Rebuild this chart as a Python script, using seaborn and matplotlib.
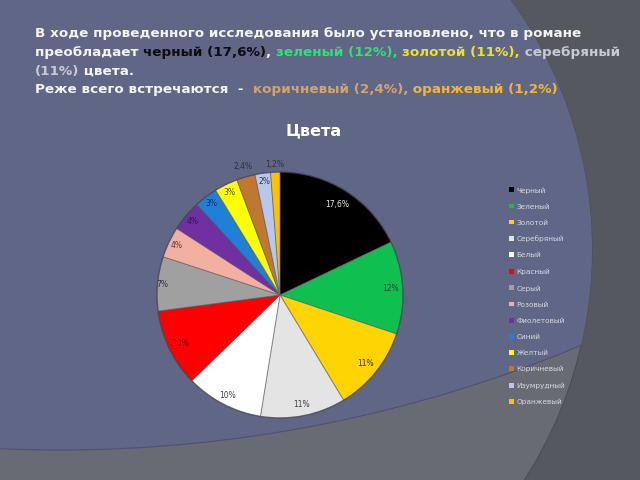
import numpy as np
import pandas as pd
import seaborn as sns
import matplotlib
matplotlib.use("Agg")
import matplotlib.pyplot as plt
from matplotlib.patches import Circle, Rectangle, Patch

# ---------------- data ----------------
categories = ["Черный", "Зеленый", "Золотой", "Серебряный", "Белый", "Красный",
              "Серый", "Розовый", "Фиолетовый", "Синий", "Желтый", "Коричневый",
              "Изумрудный", "Оранжевый"]
values = [17.6, 12, 11, 11, 10, 10, 7, 4, 4, 3, 3, 2.4, 2, 1.2]
value_labels = ["17,6%", "12%", "11%", "11%", "10%", "10%", "7%", "4%", "4%",
                "3%", "3%", "2,4%", "2%", "1,2%"]
title_text = "Цвета"

slice_colors = ["#000000", "#0fc050", "#ffd400", "#e4e4e4", "#ffffff", "#ff0000",
                "#a0a0a0", "#f2b0a0", "#7030a0", "#1f80d8", "#ffff00", "#c07830",
                "#b8c8ec", "#ffc000"]
label_colors = ["#f0f0f0", "#1e4a2c", "#3a3000", "#404040", "#404040", "#7a0000",
                "#303030", "#5a3a3a", "#3a1060", "#10305a", "#505000", "#303040",
                "#303050", "#303040"]
label_dist = [0.87, 0.9, 0.89, 0.91, 0.92, 0.9, 0.96, 0.93, 0.93, 0.93, 0.93,
              1.09, 0.93, 1.06]

header_lines = [
    [("В ходе проведенного исследования было установлено, что в романе", "#f4f4f4")],
    [("преобладает ", "#f4f4f4"), ("черный (17,6%)", "#0c0c10"), (", ", "#f4f4f4"),
     ("зеленый (12%),", "#2ee27a"), (" ", "#f4f4f4"), ("золотой (11%),", "#ece22a"),
     (" серебряный", "#c8c9d2")],
    [("(11%)", "#c8c9d2"), (" цвета.", "#f4f4f4")],
    [("Реже всего встречаются  -  ", "#f4f4f4"), ("коричневый (2,4%),", "#d2a472"),
     (" оранжевый (1,2%)", "#eeb836")],
]

# ---------------- style ----------------
sns.set_style("white")
plt.rcParams['font.family'] = ['DejaVu Sans']
palette = sns.color_palette(slice_colors)

W, H = 640, 480
fig = plt.figure(figsize=(6.4, 4.8), dpi=100)

# background decoration (pixel coordinates)
bg = fig.add_axes([0, 0, 1, 1])
bg.set_xlim(0, W)
bg.set_ylim(H, 0)
bg.axis('off')
bg.add_patch(Rectangle((0, 0), W, H, facecolor='#56585f', edgecolor='none'))
cA = Circle((167, 250), 425, facecolor='#686a74', edgecolor='#4c4e56', lw=0.8)
bg.add_patch(cA)
cB = Circle((60, -900), 1350, facecolor='#606686', edgecolor='#4e5270', lw=0.8)
bg.add_patch(cB)
cB.set_clip_path(cA)

# ---------------- pie ----------------
cx, cy, R = 280, 295, 123
lim = 1.25
side = 2 * lim * R
ax = fig.add_axes([(cx - side / 2) / W, (H - cy - side / 2) / H, side / W, side / H])
ax.set_xlim(-lim, lim)
ax.set_ylim(-lim, lim)
ax.set_aspect('equal')
ax.axis('off')

wedges, _ = ax.pie(values, colors=palette, startangle=90, counterclock=False,
                   radius=1, wedgeprops=dict(edgecolor=(0.35, 0.35, 0.4, 0.55), linewidth=0.7))
ax.add_patch(Circle((0, 0), 1.0, facecolor='none', edgecolor=(0.25, 0.25, 0.3, 0.6), lw=1.0))

for w, lab, col, d in zip(wedges, value_labels, label_colors, label_dist):
    mid = np.deg2rad((w.theta1 + w.theta2) / 2)
    ax.text(d * np.cos(mid), d * np.sin(mid), lab, ha='center', va='center',
            fontsize=5.5, color=col)

# legend
handles = [Patch(facecolor=c, edgecolor='none') for c in slice_colors]
leg = fig.legend(handles, categories, loc='upper left',
                 bbox_to_anchor=(509 / W, 1 - 187 / H), frameon=False,
                 fontsize=5.3, labelcolor='#d6d8e2', handlelength=0.65,
                 handleheight=0.65, handletextpad=0.35, labelspacing=1.36,
                 borderpad=0, borderaxespad=0)

# title
fig.text(314 / W, 1 - 135 / H, title_text, ha='center', va='baseline',
         fontsize=11.5, fontweight='bold', color='#ffffff')

# ---------------- header (multi-coloured) ----------------
renderer = fig.canvas.get_renderer()


def text_w(s, fs):
    t = fig.text(0, 0, "a" + s + "a", fontsize=fs, fontweight='bold')
    w1 = t.get_window_extent(renderer).width
    t.set_text("aa")
    w2 = t.get_window_extent(renderer).width
    t.remove()
    return w1 - w2


line1 = "".join(s for s, _ in header_lines[0])
fs_head = 10 * 543 / text_w(line1, 10)
x0 = 35
baselines = [37.5, 56, 74.5, 93]
for segs, yb in zip(header_lines, baselines):
    prefix = ""
    for s, col in segs:
        x = x0 + text_w(prefix, fs_head) if prefix else x0
        fig.text(x / W, 1 - yb / H, s, fontsize=fs_head, fontweight='bold',
                 color=col, ha='left', va='baseline')
        prefix += s

fig.savefig("out.png", dpi=100)
